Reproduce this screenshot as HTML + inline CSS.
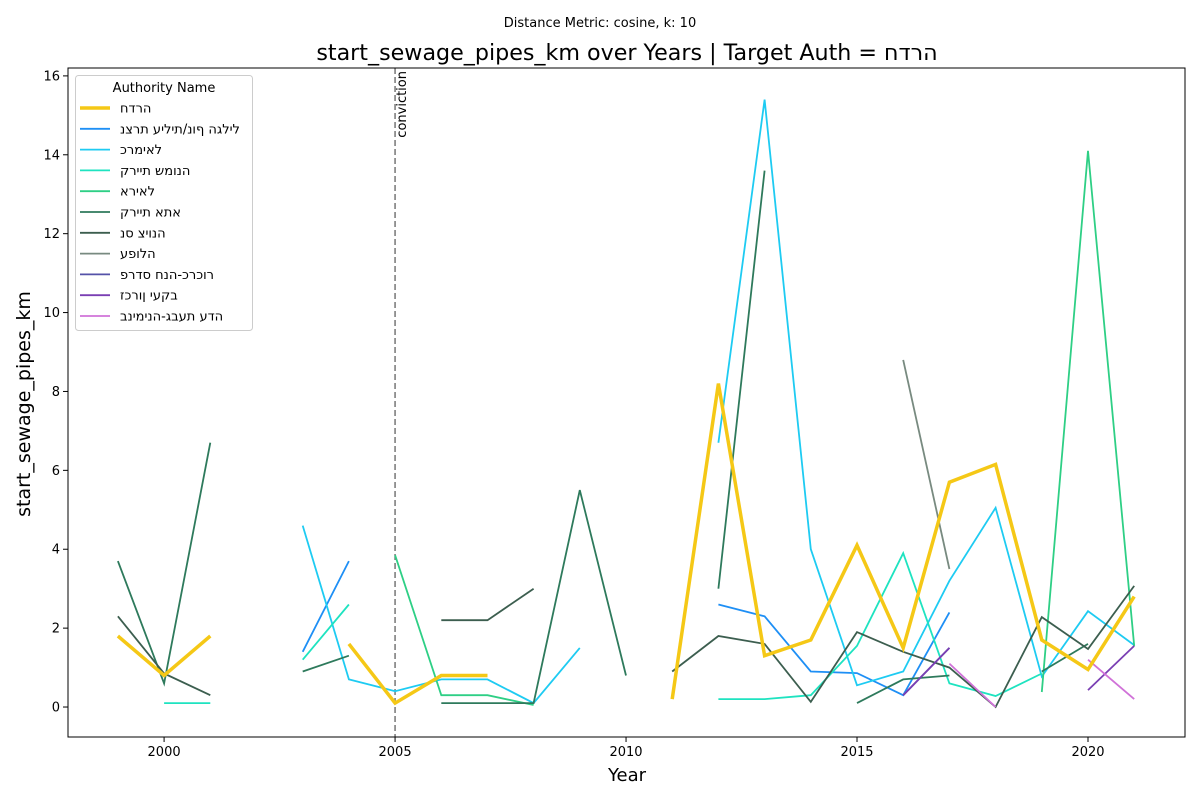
<!DOCTYPE html>
<html><head><meta charset="utf-8">
<style>
html,body{margin:0;padding:0;background:#fff;}
svg text{font-family:"DejaVu Sans","Liberation Sans",sans-serif;}
.ltr{unicode-bidi:bidi-override;direction:ltr;}
</style></head>
<body>
<svg id="chart" width="1200" height="800" xmlns="http://www.w3.org/2000/svg">
<rect width="1200" height="800" fill="#fff"/>
<text x="600" y="27" font-size="13" text-anchor="middle">Distance Metric: cosine, k: 10</text>
<text class="ltr" x="627" y="60" font-size="22.2" text-anchor="middle">start_sewage_pipes_km over Years | Target Auth = חדרה</text>
<g id="plot"></g>
<text x="627" y="781" font-size="18" text-anchor="middle">Year</text>
<text transform="translate(30,404) rotate(-90)" font-size="19" text-anchor="middle">start_sewage_pipes_km</text>
</svg>
<script>
const years = [1999,2000,2001,2002,2003,2004,2005,2006,2007,2008,2009,2010,2011,2012,2013,2014,2015,2016,2017,2018,2019,2020,2021];
const seriesNames = ["חדרה","נצרת עילית/נוף הגליל","כרמיאל","קריית שמונה","אריאל","קריית אתא","נס ציונה","עפולה","פרדס חנה-כרכור","זכרון יעקב","בנימינה-גבעת עדה"];
const seriesColors = ["#f5c816","#1e8ff5","#1ecbf2","#1ee3c0","#2ecf85","#2e7a5c","#3c5e4f","#788a80","#5552a8","#7a3fb3","#d072d8"];
const N = null;
const hadera   = [1.8,0.8,1.8,N,N,1.6,0.1,0.8,0.8,N,N,N,0.2,8.2,1.3,1.7,4.1,1.5,5.7,6.15,1.7,0.95,2.8];
const natzrat  = [N,N,N,N,1.4,3.7,N,N,N,N,N,N,N,2.6,2.3,0.9,0.86,0.3,2.4,N,N,N,N];
const karmiel  = [N,N,N,N,4.6,0.7,0.4,0.7,0.7,0.1,1.5,N,N,6.7,15.4,4.0,0.55,0.9,3.2,5.05,0.77,2.43,1.57];
const shmona   = [N,0.1,0.1,N,1.2,2.6,N,N,N,N,N,N,N,0.2,0.2,0.3,1.55,3.9,0.6,0.28,0.85,N,N];
const ariel    = [N,N,N,N,N,N,3.85,0.3,0.3,0.05,N,N,N,N,N,N,N,N,N,N,0.38,14.1,1.55];
const kirAta   = [3.7,0.6,6.7,N,0.9,1.3,N,0.1,0.1,0.1,5.5,0.8,N,3.0,13.6,N,0.1,0.7,0.8,N,0.9,1.6,N];
const nesZiona = [2.3,0.85,0.3,N,N,N,N,2.2,2.2,3.0,N,N,0.9,1.8,1.6,0.13,1.9,1.4,1.0,0.0,2.28,1.47,3.07];
const afula    = [N,N,N,N,N,N,N,N,N,N,N,N,N,N,N,N,N,8.8,3.5,N,N,N,N];
const pardes   = [N,N,N,N,N,N,N,N,N,N,N,N,N,N,N,N,N,0.3,1.5,N,N,N,N];
const zichron  = [N,N,N,N,N,N,N,N,N,N,N,N,N,N,N,N,N,0.3,1.5,N,N,0.43,1.55];
const binyamina= [N,N,N,N,N,N,N,N,N,N,N,N,N,N,N,N,N,N,1.1,0.0,N,1.2,0.2];
const allSeries = [hadera,natzrat,karmiel,shmona,ariel,kirAta,nesZiona,afula,pardes,zichron,binyamina];
const xTicks = [2000,2005,2010,2015,2020];
const yTicks = [0,2,4,6,8,10,12,14,16];
const convictionYear = 2005;

const L=68,R=1185,T=68,B=737;
const xMin=1997.92,xMax=2022.1,yMin=-0.76,yMax=16.2;
const xs=v=>L+(v-xMin)/(xMax-xMin)*(R-L);
const ys=v=>B-(v-yMin)/(yMax-yMin)*(B-T);
const NS="http://www.w3.org/2000/svg";
const plot=document.getElementById('plot');
function mk(tag,attrs,parent){const e=document.createElementNS(NS,tag);for(const k in attrs)e.setAttribute(k,attrs[k]);(parent||plot).appendChild(e);return e;}

xTicks.forEach(t=>{
  const tk=mk('line',{x1:xs(t),x2:xs(t),y1:B,y2:B+5,stroke:'#000'});
  
  
  const tx=mk('text',{x:xs(t),y:B+19,'font-size':13,'text-anchor':'middle'});
  tx.textContent=t;
  
  
});
yTicks.forEach(t=>{
  const tk=mk('line',{x1:L-5,x2:L,y1:ys(t),y2:ys(t),stroke:'#000'});
  
  
  const tx=mk('text',{x:L-8,y:ys(t)+4.5,'font-size':13,'text-anchor':'end'});
  tx.textContent=t;
  
  
});

const cl=mk('line',{x1:xs(convictionYear),x2:xs(convictionYear),y1:T,y2:B,stroke:'#777','stroke-width':1.5,'stroke-dasharray':'6,3'});


const ct=mk('text',{transform:`translate(${xs(convictionYear)+11},${T+3}) rotate(-90)`,'font-size':13,'text-anchor':'end'});
ct.textContent='conviction';



const order=[1,2,3,4,5,6,7,8,9,10,0];
order.forEach(i=>{
  const data=allSeries[i];
  let d='',pen=false;
  data.forEach((v,j)=>{
    if(v===null){pen=false;return;}
    d+=(pen?'L':'M')+xs(years[j]).toFixed(1)+','+ys(v).toFixed(1);
    pen=true;
  });
  const p=mk('path',{d:d,fill:'none',stroke:seriesColors[i],'stroke-width':i===0?3.5:1.8,'stroke-linejoin':'miter'});
  
  
});

const fr=mk('rect',{x:L,y:T,width:R-L,height:B-T,fill:'none',stroke:'#000','stroke-width':1});



const lg=mk('g',{});


mk('rect',{x:75.5,y:75.5,width:177,height:255,rx:3,fill:'#fff','fill-opacity':0.8,stroke:'#ccc'},lg);
const lt=mk('text',{x:164,y:92,'font-size':13,'text-anchor':'middle'},lg);
lt.textContent='Authority Name';


seriesNames.forEach((n,i)=>{
  const y=108+i*20.8;
  const ln=mk('line',{x1:80,x2:110,y1:y,y2:y,stroke:seriesColors[i],'stroke-width':i===0?3.5:1.8},lg);
  
  
  const tx=mk('text',{x:120,y:y+4.5,'font-size':13,'class':'ltr'},lg);
  tx.textContent=n;
  
  
});
</script>
</body></html>
